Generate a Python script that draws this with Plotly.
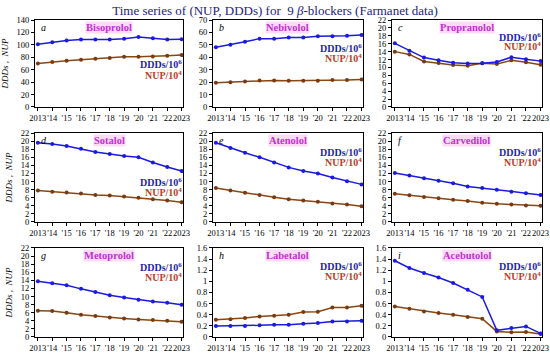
import plotly.graph_objects as go

years = list(range(2013, 2024))
year_labels = ["2013", "'14", "'15", "'16", "'17", "'18", "'19", "'20", "'21", "'22", "2023"]

drugs = ["Bisoprolol", "Nebivolol", "Propranolol", "Sotalol", "Atenolol",
         "Carvedilol", "Metoprolol", "Labetalol", "Acebutolol"]
letters = ["a", "b", "c", "d", "e", "f", "g", "h", "i"]

ddds_bisoprolol = [101, 104, 107, 108.5, 108.5, 108.5, 110, 112.5, 110.5, 108.5, 109]
nup_bisoprolol = [70, 72.5, 74.6, 76, 77.7, 78.8, 80.8, 81, 81.4, 82.4, 83.5]
ddds_nebivolol = [48, 50, 52.5, 55, 55, 56, 56, 57, 57, 57.4, 58]
nup_nebivolol = [19.6, 20, 20.6, 21.4, 21.4, 21.1, 21.1, 21.1, 21.7, 21.7, 22.2]
ddds_propranolol = [16.1, 14.2, 12.5, 11.8, 11.2, 11.0, 11.05, 11.4, 12.6, 12.1, 11.6]
nup_propranolol = [14.0, 13.3, 11.5, 11.1, 10.6, 10.4, 11.05, 10.9, 11.8, 11.3, 10.7]
ddds_sotalol = [19.6, 19.3, 18.8, 18.1, 17.3, 16.8, 16.3, 16.0, 14.7, 13.6, 12.6]
nup_sotalol = [7.8, 7.5, 7.3, 7.05, 6.7, 6.55, 6.3, 6.0, 5.65, 5.3, 4.9]
ddds_atenolol = [19.6, 18.3, 17.1, 16.0, 14.7, 13.5, 12.6, 12.0, 11.0, 10.1, 9.3]
nup_atenolol = [8.4, 7.8, 7.2, 6.7, 6.1, 5.6, 5.3, 5.0, 4.6, 4.3, 3.9]
ddds_carvedilol = [12.1, 11.5, 10.8, 10.2, 9.6, 8.8, 8.4, 8.0, 7.5, 7.1, 6.7]
nup_carvedilol = [7.0, 6.6, 6.2, 5.9, 5.5, 5.2, 4.75, 4.5, 4.3, 4.1, 4.0]
ddds_metoprolol = [13.8, 13.3, 12.8, 11.9, 11.1, 10.3, 9.75, 9.2, 8.8, 8.45, 8.0]
nup_metoprolol = [6.5, 6.4, 6.0, 5.5, 5.2, 4.85, 4.6, 4.35, 4.2, 4.0, 3.8]
ddds_labetalol = [0.20, 0.20, 0.20, 0.21, 0.22, 0.22, 0.24, 0.25, 0.28, 0.28, 0.29]
nup_labetalol = [0.31, 0.32, 0.34, 0.37, 0.38, 0.40, 0.45, 0.455, 0.53, 0.53, 0.56]
ddds_acebutolol = [1.37, 1.24, 1.15, 1.07, 0.97, 0.85, 0.72, 0.12, 0.16, 0.19, 0.065]
nup_acebutolol = [0.55, 0.51, 0.46, 0.43, 0.40, 0.36, 0.33, 0.10, 0.085, 0.09, 0.055]

ddds_all = [ddds_bisoprolol, ddds_nebivolol, ddds_propranolol, ddds_sotalol, ddds_atenolol,
            ddds_carvedilol, ddds_metoprolol, ddds_labetalol, ddds_acebutolol]
nup_all = [nup_bisoprolol, nup_nebivolol, nup_propranolol, nup_sotalol, nup_atenolol,
           nup_carvedilol, nup_metoprolol, nup_labetalol, nup_acebutolol]

y_max = [140, 70, 22, 22, 22, 22, 22, 1.6, 1.6]
y_dtick = [20, 10, 2, 2, 2, 2, 2, 0.2, 0.2]

# label vertical positions (fraction of panel height) for DDDs / NUP legend texts
ddds_label_y = [0.49, 0.68, 0.81, 0.45, 0.79, 0.79, 0.79, 0.80, 0.80]
nup_label_y = [0.37, 0.56, 0.70, 0.34, 0.67, 0.67, 0.67, 0.68, 0.68]

col_domains = [[0.0, 0.292], [0.351, 0.647], [0.704, 1.0]]
row_domains = [[0.7256, 1.0], [0.3628, 0.6435], [0.0, 0.2808]]

FONT = "Liberation Serif"
C_DDD = "#1a1ae0"
C_NUP = "#8b4513"
C_DDD_TXT = "#1f1fa8"
C_NUP_TXT = "#b8402a"
C_NAME = "#c030d0"

fig = go.Figure()
annotations = []
layout = {}

for i in range(9):
    r, c = divmod(i, 3)
    n = "" if i == 0 else str(i + 1)
    xa, ya = "x" + n, "y" + n
    fig.add_trace(go.Scatter(x=years, y=nup_all[i], mode="lines+markers",
                             line=dict(color=C_NUP, width=1.5),
                             marker=dict(color="#7a3a10", size=4),
                             xaxis=xa, yaxis=ya, showlegend=False))
    fig.add_trace(go.Scatter(x=years, y=ddds_all[i], mode="lines+markers",
                             line=dict(color=C_DDD, width=1.5),
                             marker=dict(color=C_DDD, size=4),
                             xaxis=xa, yaxis=ya, showlegend=False))
    layout["xaxis" + n] = dict(
        domain=col_domains[c], anchor=ya, range=[2012.8, 2023.1],
        tickmode="array", tickvals=years, ticktext=year_labels, tickangle=0,
        ticks="outside", ticklen=3, tickwidth=1, tickcolor="black",
        showline=True, linecolor="black", linewidth=1, mirror=True,
        showgrid=False, zeroline=False, automargin=False,
        tickfont=dict(family=FONT, size=8.5, color="black"),
    )
    layout["yaxis" + n] = dict(
        domain=row_domains[r], anchor=xa, range=[0, y_max[i]], dtick=y_dtick[i],
        ticks="outside", ticklen=3, tickwidth=1, tickcolor="black",
        showline=True, linecolor="black", linewidth=1, mirror=True,
        showgrid=False, zeroline=False, automargin=False,
        tickfont=dict(family=FONT, size=8.5, color="black"),
    )
    if c == 0:
        layout["yaxis" + n]["title"] = dict(
            text="<i>DDDs ,  NUP</i>", standoff=6,
            font=dict(family=FONT, size=9, color="black"))
    xd, yd = xa + " domain", ya + " domain"
    annotations.append(dict(xref=xd, yref=yd, x=0.025, y=1.0, xanchor="left", yanchor="top",
                            text="<i>" + letters[i] + "</i>", showarrow=False,
                            font=dict(family=FONT, size=10, color="black")))
    annotations.append(dict(xref=xd, yref=yd, x=0.5, y=0.985, xanchor="center", yanchor="top",
                            text="<b>" + drugs[i] + "</b>", showarrow=False,
                            bgcolor="#fcdcf5", borderpad=0,
                            font=dict(family=FONT, size=10.5, color=C_NAME)))
    annotations.append(dict(xref=xd, yref=yd, x=1.0, y=ddds_label_y[i], xanchor="right",
                            yanchor="middle", text="<b>DDDs/10<sup>6</sup></b>", showarrow=False,
                            borderpad=0,
                            font=dict(family=FONT, size=10, color=C_DDD_TXT)))
    annotations.append(dict(xref=xd, yref=yd, x=1.0, y=nup_label_y[i], xanchor="right",
                            yanchor="middle", text="<b>NUP/10<sup>4</sup></b>", showarrow=False,
                            borderpad=0,
                            font=dict(family=FONT, size=10, color=C_NUP_TXT)))

fig.update_layout(
    width=550, height=358,
    margin=dict(l=35, r=8, t=20, b=21),
    paper_bgcolor="white", plot_bgcolor="white",
    title=dict(text="Time series of (NUP, DDDs) for  9 <i>β</i>-blockers (Farmanet data)",
               x=0.5, xanchor="center", y=0.972, yanchor="middle",
               font=dict(family=FONT, size=13, color="#23237a")),
    annotations=annotations,
    **layout,
)

fig.write_html("out.html", config={"displayModeBar": False},
               post_script="document.body.style.margin='0';")
